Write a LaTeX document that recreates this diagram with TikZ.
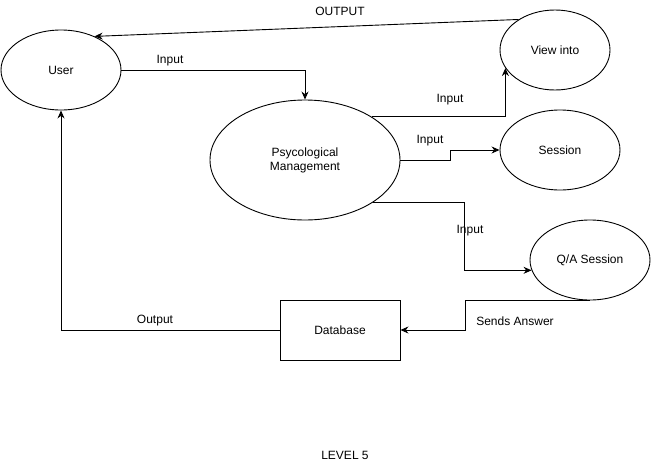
\documentclass[tikz,border=0pt]{standalone}
\usepackage{fontspec}
\setmainfont{Liberation Sans}
\usetikzlibrary{arrows.meta,positioning,shapes.geometric,calc}

\begin{document}
\begin{tikzpicture}[
   x=1pt,y=-1pt,
   every node/.style={font=\fontsize{12}{14}\selectfont},
   proc/.style={draw,ellipse,line width=0.9pt,inner sep=0pt,align=center},
   store/.style={draw,rectangle,line width=0.9pt,minimum width=120pt,minimum height=60pt},
   lbl/.style={inner sep=1pt},
   flow/.style={line width=0.9pt,-{Stealth[length=8pt,width=7pt]}},
   ln/.style={line width=0.9pt}
]
\useasboundingbox (0,0) rectangle (651,466);

% processes
\node[proc,minimum width=120pt,minimum height=80pt] (U) at (61,70) {User};
\node[proc,minimum width=190pt,minimum height=120pt] (PM) at (305,160) {Psycological\\Management};
\node[proc,minimum width=110pt,minimum height=80pt] (VI) at (555,50) {View into};
\node[proc,minimum width=120pt,minimum height=80pt] (S) at (560,150) {Session};
\node[proc,minimum width=120pt,minimum height=80pt] (QA) at (590,260) {Q/A Session};
\node[store] (DB) at (340,330) {Database};

% flows
\draw[flow] (VI.140) -- (U.45);
\draw[flow] (U.east) -| (PM.north);
\draw[flow] (PM.33) -| (VI.200);
\draw[flow] (PM.east) -- ++(50,0) |- (S.west);
\draw[flow] (PM.-32) -- ++(92,0) |- (QA.190);
\draw[flow] (QA.south) -- ++(-125,0) |- (DB.east);
\draw[flow] (DB.west) -| (U.south);

% labels
\node[lbl] (lout) at (340,11) {OUTPUT};
\node[lbl] (lin1) at (170,61) {Input};
\node[lbl] (lin2) at (450,100) {Input};
\node[lbl] (lin3) at (430,141) {Input};
\node[lbl] (lin4) at (470,231) {Input};
\node[lbl] (lans) at (515,321) {Sends Answer};
\node[lbl] (lout2) at (155,321) {Output};
\node[lbl] (lvl) at (345,455) {LEVEL 5};

\end{tikzpicture}
\end{document}
